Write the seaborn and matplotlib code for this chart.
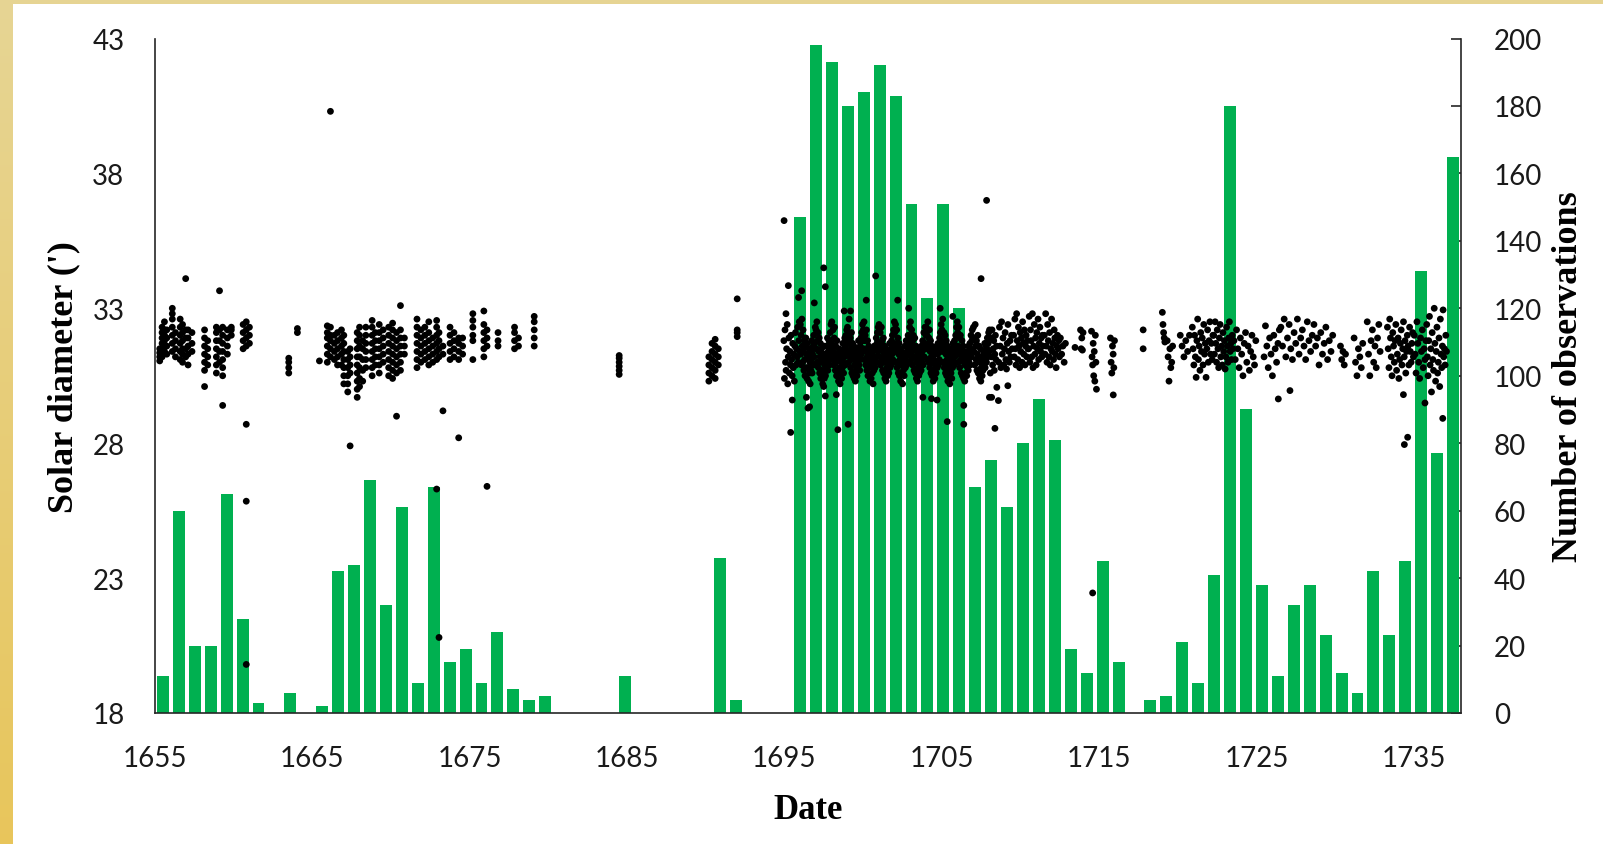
import numpy as np
import pandas as pd
import matplotlib
matplotlib.use("Agg")
import matplotlib.pyplot as plt
from matplotlib.ticker import MultipleLocator
import seaborn as sns

# ---------------- data ----------------
bar_years = list(range(1655, 1737))
bar_counts = [11, 60, 20, 20, 65, 28, 3, 0, 6, 0,
              2, 42, 44, 69, 32, 61, 9, 67, 15, 19,
              9, 24, 7, 4, 5, 0, 0, 0, 0, 11,
              0, 0, 0, 0, 0, 46, 4, 0, 0, 0,
              147, 198, 193, 180, 184, 192, 183, 151, 123, 151,
              120, 67, 75, 61, 80, 93, 81, 19, 12, 45,
              15, 0, 4, 5, 21, 9, 41, 180, 90, 38,
              11, 32, 38, 23, 12, 6, 42, 23, 45, 131,
              77, 165]

# observation groups: (start date, end date, solar diameters in arcmin)
obs_1655_1680 = [
    (1655.3, 1655.3, [31.05, 31.2, 31.35, 31.5]),
    (1655.45, 1655.45, [31.2, 31.5, 31.7, 31.9, 32.1, 32.3]),
    (1655.6, 1655.6, [31.4, 31.6, 31.8, 32.0, 32.2, 32.5]),
    (1655.75, 1655.75, [31.3, 31.6, 31.9, 32.2]),
    (1656.1, 1656.1, [31.4, 31.7, 32.0, 32.3, 32.6, 32.8, 33.0]),
    (1656.3, 1656.3, [31.2, 31.5, 31.8, 32.1]),
    (1656.6, 1656.6, [31.1, 31.4, 31.7, 32.0, 32.3, 32.6]),
    (1656.75, 1656.75, [31.0, 31.3, 31.5, 31.8, 32.1, 32.4]),
    (1656.95, 1656.95, [31.2, 31.5, 31.9, 32.2, 34.1]),
    (1657.1, 1657.1, [30.9, 31.3, 31.6, 31.9, 32.2]),
    (1657.35, 1657.35, [31.4, 31.7, 32.1]),
    (1658.15, 1658.15, [30.1, 30.7, 31.0, 31.3, 31.6, 31.9, 32.2]),
    (1658.35, 1658.35, [30.9, 31.2, 31.5, 31.8]),
    (1658.9, 1658.9, [30.6, 30.9, 31.2, 31.5, 31.8, 32.1, 32.3]),
    (1659.1, 1659.1, [31.0, 31.4, 31.8, 32.2, 33.65]),
    (1659.3, 1659.3, [30.5, 30.8, 31.1, 31.4, 31.7, 32.0, 32.3, 29.4]),
    (1659.6, 1659.6, [31.3, 31.6, 31.9, 32.2]),
    (1659.85, 1659.85, [32.0, 32.2, 32.3]),
    (1660.6, 1660.6, [31.5, 31.8, 32.1, 32.4]),
    (1660.8, 1660.8, [31.6, 31.9, 32.2, 32.5, 28.7, 25.85, 19.8]),
    (1661.0, 1661.0, [31.7, 32.0, 32.3]),
    (1663.5, 1663.5, [30.6, 30.8, 31.0, 31.15]),
    (1664.05, 1664.05, [32.1, 32.25]),
    (1665.45, 1665.45, [31.05]),
    (1665.95, 1665.95, [31.0, 31.3, 31.6, 31.9, 32.1, 32.35]),
    (1666.15, 1666.15, [31.2, 31.5, 31.8, 32.0, 32.3, 40.3]),
    (1666.4, 1666.4, [31.1, 31.4, 31.7, 32.0]),
    (1666.6, 1666.6, [30.9, 31.2, 31.5, 31.8, 32.1]),
    (1666.85, 1666.85, [30.9, 31.3, 31.6, 31.9, 32.2]),
    (1667.0, 1667.0, [30.2, 30.5, 30.8, 31.1, 31.4, 31.7, 32.0]),
    (1667.25, 1667.25, [29.9, 30.2, 30.5, 30.8, 31.1, 31.4]),
    (1667.4, 1667.4, [30.6, 30.9, 31.2, 31.5, 27.9]),
    (1667.85, 1667.85, [29.7, 30.0, 30.3, 30.6, 30.9, 31.2, 31.5, 31.8, 32.1]),
    (1668.0, 1668.0, [30.1, 30.4, 30.8, 31.2, 31.6, 32.0, 32.3]),
    (1668.2, 1668.2, [30.3, 30.7, 31.1, 31.5, 31.8]),
    (1668.4, 1668.4, [30.8, 31.1, 31.4, 31.7, 32.0, 32.3]),
    (1668.8, 1668.8, [30.5, 30.8, 31.1, 31.4, 31.7, 32.0, 32.3, 32.55]),
    (1669.0, 1669.0, [30.9, 31.2, 31.5, 31.8, 32.1]),
    (1669.25, 1669.25, [30.6, 30.9, 31.2, 31.5, 31.8, 32.1, 32.4]),
    (1669.5, 1669.5, [31.0, 31.3, 31.6, 31.9, 32.2]),
    (1669.85, 1669.85, [30.5, 30.8, 31.1, 31.4, 31.7, 32.0, 32.3]),
    (1670.1, 1670.1, [30.4, 30.7, 31.0, 31.3, 31.6, 31.9, 32.2, 32.45]),
    (1670.35, 1670.35, [30.6, 30.9, 31.2, 31.5, 31.8, 32.1, 29.0]),
    (1670.6, 1670.6, [30.7, 31.0, 31.3, 31.6, 31.9, 32.2, 33.1]),
    (1670.85, 1670.85, [31.3, 31.6, 31.9]),
    (1671.65, 1671.65, [30.8, 31.1, 31.4, 31.7, 32.0, 32.3, 32.6]),
    (1671.9, 1671.9, [31.0, 31.3, 31.6, 31.9, 32.2]),
    (1672.15, 1672.15, [31.1, 31.4, 31.7, 32.0, 32.3]),
    (1672.4, 1672.4, [30.9, 31.2, 31.5, 31.8, 32.1, 32.5]),
    (1672.65, 1672.65, [31.0, 31.3, 31.6, 31.9]),
    (1672.9, 1672.9, [31.1, 31.4, 31.7, 32.0, 32.3, 32.55, 26.3]),
    (1673.05, 1673.05, [31.2, 31.5, 31.8, 32.1, 20.8]),
    (1673.3, 1673.3, [31.3, 31.6, 29.2]),
    (1673.75, 1673.75, [31.1, 31.4, 31.7, 32.0, 32.3]),
    (1674.0, 1674.0, [31.2, 31.5, 31.8, 32.1]),
    (1674.3, 1674.3, [31.1, 31.4, 31.7, 31.9, 28.2]),
    (1674.55, 1674.55, [31.3, 31.6, 31.9]),
    (1675.2, 1675.2, [31.1, 31.8, 32.0, 32.3, 32.55, 32.8]),
    (1675.9, 1675.9, [31.2, 31.5, 31.8, 32.1, 32.4, 32.9]),
    (1676.1, 1676.1, [31.6, 31.9, 32.2, 26.4]),
    (1676.8, 1676.8, [31.6, 31.8, 32.1]),
    (1677.85, 1677.85, [31.5, 31.8, 32.1, 32.3]),
    (1678.1, 1678.1, [31.6, 31.9]),
    (1679.1, 1679.1, [31.6, 31.9, 32.2, 32.5, 32.7]),
]

obs_1684_1695 = [
    (1684.5, 1684.5, [30.55, 30.7, 30.85, 31.0, 31.15, 31.25]),
    (1690.2, 1690.2, [30.3, 30.6, 30.9, 31.2]),
    (1690.4, 1690.4, [30.5, 30.8, 31.1, 31.4, 31.7]),
    (1690.6, 1690.6, [30.4, 30.7, 31.0, 31.3, 31.6, 31.85]),
    (1690.8, 1690.8, [30.9, 31.2, 31.5]),
    (1692.0, 1692.0, [31.95, 32.1, 32.2, 33.35]),
]

obs_1695_1708 = [
    (1694.95, 1696.0, [31.8, 30.4, 32.2, 31.0, 30.7, 31.5, 32.4, 30.2, 31.2, 31.9, 30.6, 31.4, 30.9, 32.0, 31.1,
                       30.5, 31.7, 30.8, 31.3, 30.3, 31.6, 32.1, 30.9, 31.5, 31.2, 32.3, 31.0, 31.8, 32.5, 31.4]),
    (1696.0, 1697.0, [32.4, 31.3, 32.0, 30.9, 32.6, 31.6, 31.0, 32.2, 31.4, 30.7, 31.8, 31.1, 30.5, 31.6, 31.9,
                      30.8, 31.3, 30.4, 31.7, 30.8, 31.2, 30.3, 31.5, 30.6, 31.0, 30.2, 31.4, 30.7, 31.1, 31.8,
                      30.6, 31.3, 30.9, 31.6, 32.0, 31.2, 31.7, 30.9, 32.3, 31.5]),
    (1697.0, 1698.0, [32.2, 31.5, 32.5, 31.0, 31.8, 32.1, 30.8, 31.4, 31.9, 30.6, 31.2, 31.7, 30.4, 31.0, 31.5,
                      30.7, 31.3, 30.2, 31.1, 30.6, 31.6, 30.4, 30.9, 31.3, 30.5, 31.0, 31.6, 30.8, 31.2, 31.9,
                      30.7, 31.4, 31.1, 31.8, 30.9, 31.5, 32.1, 31.3, 32.4, 31.7]),
    (1698.0, 1699.0, [32.5, 31.6, 31.1, 32.2, 31.4, 30.9, 31.9, 32.3, 31.2, 30.7, 31.6, 31.0, 30.5, 31.8, 31.3,
                      30.6, 31.1, 30.3, 31.5, 30.8, 31.2, 30.2, 31.4, 30.6, 31.0, 30.4, 31.3, 30.8, 31.7, 31.0,
                      30.6, 31.5, 31.2, 31.9, 30.9, 31.6, 32.0, 31.3, 32.2, 31.8]),
    (1699.0, 1700.0, [32.3, 31.4, 32.0, 31.0, 32.6, 31.7, 31.2, 31.9, 30.8, 31.5, 32.1, 30.6, 31.3, 31.7, 30.5,
                      31.1, 31.6, 30.4, 30.9, 31.4, 30.3, 31.2, 30.7, 31.5, 30.5, 31.0, 30.8, 31.3, 31.8, 30.9,
                      31.4, 30.7, 31.6, 31.1, 31.9, 31.3, 32.1, 31.5, 32.4, 31.8]),
    (1700.0, 1701.0, [32.2, 31.5, 32.5, 31.1, 31.8, 32.0, 30.9, 31.4, 32.2, 30.7, 31.2, 31.8, 30.5, 31.0, 31.6,
                      30.8, 31.3, 30.3, 31.0, 31.5, 30.4, 30.9, 31.2, 30.6, 31.4, 30.2, 31.1, 30.7, 31.6, 31.0,
                      30.8, 31.5, 31.2, 31.9, 31.0, 31.7, 32.1, 31.4, 32.3, 31.6]),
    (1701.0, 1702.0, [32.4, 31.7, 31.2, 32.1, 30.9, 31.5, 32.3, 31.0, 31.8, 30.7, 31.4, 31.9, 30.6, 31.2, 31.6,
                      30.4, 31.0, 31.5, 30.3, 31.1, 30.8, 31.4, 30.5, 30.9, 31.3, 30.6, 31.0, 31.7, 30.8, 31.2,
                      31.5, 30.9, 31.8, 31.3, 32.0, 31.1, 31.6, 32.2, 31.4, 32.5]),
    (1702.0, 1703.0, [32.1, 31.4, 32.4, 31.0, 31.7, 32.2, 30.8, 31.5, 31.9, 30.6, 31.3, 31.7, 30.5, 31.1, 31.5,
                      30.3, 30.9, 31.4, 30.6, 31.2, 30.2, 31.0, 30.7, 31.3, 30.5, 31.1, 31.6, 30.8, 31.2, 31.8,
                      30.9, 31.4, 31.0, 31.7, 32.0, 31.3, 31.9, 31.5, 32.3, 31.6]),
    (1703.0, 1704.0, [32.5, 31.6, 31.1, 32.2, 31.4, 30.9, 31.8, 32.0, 31.2, 30.7, 31.5, 31.9, 30.6, 31.2, 31.6,
                      30.4, 31.0, 31.4, 30.3, 30.8, 31.3, 30.5, 31.1, 30.6, 31.5, 30.9, 31.2, 30.7, 31.6, 31.0,
                      31.4, 31.8, 30.9, 31.5, 32.1, 31.2, 31.7, 32.3, 31.5, 32.0]),
    (1704.0, 1705.0, [32.3, 31.5, 32.0, 31.1, 32.5, 31.7, 31.0, 31.9, 32.2, 30.8, 31.4, 31.8, 30.6, 31.2, 31.6,
                      30.5, 31.0, 31.5, 30.3, 31.1, 30.7, 31.3, 30.4, 30.9, 31.4, 30.6, 31.0, 31.6, 30.8, 31.3,
                      31.7, 30.9, 31.5, 31.1, 31.9, 31.4, 32.1, 31.6, 32.4, 31.8]),
    (1705.0, 1706.0, [32.2, 31.4, 32.6, 31.0, 31.7, 32.1, 30.8, 31.5, 32.0, 30.6, 31.3, 31.8, 30.5, 31.1, 31.6,
                      30.3, 30.9, 31.4, 30.7, 31.2, 30.2, 31.0, 31.5, 30.6, 31.1, 30.4, 31.3, 30.8, 31.7, 31.0,
                      31.4, 30.9, 31.8, 31.2, 31.6, 32.0, 31.3, 32.3, 31.5, 32.5]),
    (1706.0, 1707.0, [32.1, 31.6, 31.0, 32.3, 31.3, 30.8, 31.9, 32.0, 31.1, 30.6, 31.5, 31.8, 30.5, 31.2, 31.6,
                      30.4, 31.0, 31.4, 30.3, 30.9, 31.3, 30.6, 31.1, 30.5, 31.4, 30.8, 31.2, 30.7, 31.6, 31.0,
                      31.3, 31.7, 30.9, 31.5, 32.0, 31.2, 31.8, 32.2, 31.4, 31.9]),
    (1707.0, 1708.05, [32.3, 31.4, 31.9, 30.9, 32.4, 31.6, 31.1, 31.8, 30.7, 31.3, 32.0, 30.6, 31.2, 31.6, 30.4,
                       31.0, 31.5, 30.3, 30.8, 31.2, 30.5, 31.1, 30.7, 31.4, 30.9, 31.3, 31.7, 30.8, 31.2, 31.6,
                       31.0, 31.5, 31.9, 31.2, 31.7, 32.1, 31.4, 32.2]),
]

obs_1708_1737 = [
    (1708.07, 1708.5, [30.6, 31.9, 31.2, 32.2, 30.9, 31.5, 31.8, 30.7, 31.3, 32.0, 31.1, 31.6]),
    (1708.6, 1709.5, [31.0, 32.3, 31.6, 30.8, 32.5, 31.3, 31.9, 30.9, 31.5, 32.1, 31.1, 30.75, 31.7, 32.4, 31.4,
                      31.0, 31.8, 31.2, 32.0, 31.5]),
    (1709.55, 1710.5, [32.0, 31.2, 32.6, 31.5, 30.9, 32.8, 31.8, 31.1, 32.3, 31.6, 30.8, 32.1, 31.4, 31.9, 31.0,
                       32.5, 31.7, 31.3, 32.2, 30.9, 31.6, 32.0, 31.2, 31.8, 31.5]),
    (1710.5, 1711.5, [31.5, 32.7, 31.0, 32.2, 31.8, 31.2, 32.8, 30.8, 31.6, 32.4, 31.3, 31.9, 30.9, 32.1, 31.5,
                      32.6, 31.1, 31.7, 32.3, 31.4, 31.9, 31.2, 32.0, 31.6, 31.3]),
    (1711.5, 1712.5, [32.0, 31.3, 32.8, 31.6, 31.0, 32.4, 31.8, 31.2, 32.1, 30.9, 31.5, 32.6, 31.4, 31.7, 31.1,
                      32.2, 31.9, 31.3, 30.8, 31.6, 32.0, 31.5, 31.8, 31.2]),
    (1712.5, 1712.9, [31.9, 31.3, 31.6, 31.0, 31.7]),
    (1713.47, 1713.47, [31.55]),
    (1713.8, 1714.0, [32.2, 31.5, 31.9, 31.45, 32.1]),
    (1714.5, 1714.85, [32.15, 31.2, 30.9, 31.7, 30.5, 31.4, 30.3, 32.0, 31.0, 30.0]),
    (1715.7, 1716.0, [31.9, 31.0, 30.6, 31.6, 31.3, 30.8, 31.8]),
    (1717.8, 1717.8, [32.2, 31.5]),
    (1719.0, 1719.2, [32.85, 32.4, 32.1, 31.9, 31.75]),
    (1719.3, 1719.7, [31.8, 31.2, 30.3, 31.5, 30.8, 31.0, 31.6]),
    (1720.1, 1720.8, [32.0, 31.6, 31.2, 31.8, 31.4, 32.0]),
    (1720.9, 1722.26, [32.3, 31.5, 30.9, 32.0, 31.2, 30.44, 31.8, 32.6, 31.1, 31.6, 30.7, 32.1, 31.4, 31.9, 30.9,
                       32.4, 31.3, 31.7, 30.44, 31.5, 32.2, 31.0, 31.8, 32.5, 31.3, 31.7, 31.1, 32.0]),
    (1722.26, 1723.53, [32.0, 31.3, 32.5, 31.7, 31.0, 32.2, 31.5, 30.8, 31.9, 32.4, 31.2, 31.6, 30.9, 32.1, 31.4,
                        31.8, 30.75, 31.2, 32.3, 31.6, 31.0, 31.9, 32.5, 31.4, 31.7, 31.1, 32.0, 31.5]),
    (1723.53, 1725.0, [31.8, 31.1, 32.2, 31.5, 30.8, 31.9, 31.3, 30.5, 31.7, 32.1, 31.0, 31.6, 30.7, 31.4, 32.0,
                       31.2, 30.9, 31.8]),
    (1725.44, 1726.5, [31.2, 32.35, 31.6, 30.8, 31.9, 31.3, 30.5, 32.0, 31.5, 31.0, 31.7, 32.2]),
    (1726.5, 1728.6, [32.3, 31.6, 32.6, 31.2, 31.9, 32.4, 31.5, 31.1, 32.1, 31.7, 32.6, 31.3, 31.9, 32.2, 31.6,
                      31.1, 32.5, 31.8, 31.4, 32.0]),
    (1728.6, 1729.9, [32.4, 31.6, 31.9, 30.9, 32.1, 31.3, 31.7, 32.3, 31.1, 31.8, 31.4, 32.0]),
    (1730.3, 1730.7, [31.6, 31.1, 31.4, 30.9, 31.3]),
    (1731.16, 1731.8, [31.9, 31.0, 30.5, 31.5, 31.2, 30.8, 31.7]),
    (1732.0, 1732.9, [32.5, 31.3, 30.5, 31.8, 32.2, 31.0, 31.6, 30.8, 31.9, 32.4, 31.4]),
    (1733.3, 1735.0, [32.3, 31.5, 30.8, 32.6, 31.9, 31.2, 30.5, 32.1, 31.6, 31.0, 31.8, 32.4, 30.7, 31.3, 31.9,
                      30.4, 31.1, 31.7, 32.2, 30.9, 31.5, 32.5, 31.2, 31.8, 30.6, 31.4, 32.0, 31.6, 30.9, 32.3,
                      31.4, 31.0, 31.7, 32.1, 31.2]),
    (1735.0, 1735.8, [32.0, 31.3, 30.6, 32.5, 31.7, 31.0, 30.4, 31.9, 31.4, 32.2, 30.8, 31.5, 31.1, 31.8]),
    (1735.8, 1737.1, [32.4, 31.2, 30.5, 31.8, 32.7, 30.9, 31.5, 29.9, 32.1, 31.1, 30.7, 33.0, 31.7, 30.3, 31.4,
                      32.3, 30.6, 31.0, 31.9, 30.1, 32.6, 31.3, 30.8, 31.6, 32.94, 31.2, 31.5, 30.9, 32.0, 31.4]),
]

outlier_dates = [1694.98, 1695.25, 1695.1, 1696.1, 1695.9, 1697.6, 1696.9, 1697.5, 1700.8, 1700.2,
                 1702.2, 1702.9, 1707.5, 1704.9, 1705.7, 1698.8, 1699.2, 1707.85,
                 1695.4, 1695.5, 1696.4, 1696.5, 1696.6, 1697.5, 1697.6, 1698.4, 1699.05, 1698.3,
                 1703.8, 1704.35, 1704.7, 1705.35, 1706.4, 1706.4, 1708.03,
                 1708.17, 1708.6, 1708.38, 1708.5, 1709.2, 1714.59, 1715.9, 1726.39, 1727.13,
                 1734.34, 1734.4, 1734.61, 1735.71, 1736.84]
outlier_values = [36.25, 33.84, 32.8, 33.65, 33.4, 33.8, 33.2, 34.5, 34.2, 33.3,
                  33.3, 33.0, 34.1, 33.0, 32.7, 32.9, 32.9, 37.0,
                  28.4, 29.6, 29.7, 29.3, 29.35, 30.1, 29.75, 28.5, 28.7, 29.8,
                  29.7, 29.65, 29.6, 28.8, 29.4, 28.7, 29.7,
                  29.7, 29.58, 28.55, 30.07, 30.13, 22.45, 29.79, 29.64, 29.95,
                  29.8, 27.95, 28.22, 29.49, 28.92]

x_ticks = [1655, 1665, 1675, 1685, 1695, 1705, 1715, 1725, 1735]
left_ticks = [18, 23, 28, 33, 38, 43]
right_ticks = [0, 20, 40, 60, 80, 100, 120, 140, 160, 180, 200]

# ---------------- build tables ----------------
dates, diams = [], []
for group in (obs_1655_1680, obs_1684_1695, obs_1695_1708, obs_1708_1737):
    for t0, t1, vals in group:
        n = len(vals)
        if t0 == t1 or n == 1:
            ds = [t0] * n
        else:
            ds = list(t0 + (np.arange(n) + 0.5) * (t1 - t0) / n)
        dates.extend(ds)
        diams.extend(vals)
dates.extend(outlier_dates)
diams.extend(outlier_values)
obs_df = pd.DataFrame({"date": dates, "diameter": diams})
bar_df = pd.DataFrame({"year": bar_years, "count": bar_counts})

# ---------------- figure ----------------
sns.set_style("white")
plt.rcParams["font.family"] = ["Lato", "DejaVu Sans"]

W, H = 1603, 845
fig = plt.figure(figsize=(W / 100, H / 100), dpi=100)
fig.patch.set_facecolor("white")

# decorative gold frame (left and top strips)
bg = fig.add_axes([0, 0, 1, 1], zorder=-10)
bg.axis("off")
grad_left = np.linspace(0, 1, 64)[:, None, None]
c_top = np.array([0.905, 0.835, 0.58])
c_bot = np.array([0.91, 0.775, 0.36])
left_img = c_top * (1 - grad_left) + c_bot * grad_left
bg.imshow(left_img, extent=(0, 13, H, 0), aspect="auto", interpolation="bilinear")
top_img = np.ones((1, 2, 3)) * np.array([0.905, 0.835, 0.58])
bg.imshow(top_img, extent=(0, W, 5, 0), aspect="auto")
bg.set_xlim(0, W)
bg.set_ylim(H, 0)

rect = [155 / W, 1 - 714 / H, 1306 / W, 674.5 / H]
GREEN = "#00B050"
AXC = "#262626"

# bars (secondary axis, categorical years)
ax_bar = fig.add_axes(rect, zorder=1)
sns.barplot(data=bar_df, x="year", y="count", ax=ax_bar, color=GREEN,
            saturation=1, width=0.75, linewidth=0)
ax_bar.set_xlim(-0.5, len(bar_years) - 0.5)
ax_bar.set_ylim(0, 200)
ax_bar.set_xticks([])
ax_bar.set_xlabel("")
ax_bar.yaxis.tick_right()
ax_bar.yaxis.set_label_position("right")
ax_bar.set_yticks(right_ticks)
ax_bar.set_ylabel("Number of observations", family="Liberation Serif",
                  fontweight="bold", fontsize=26, color="black")
ax_bar.yaxis.set_label_coords(1.0693, 0.5)
ax_bar.tick_params(axis="y", direction="in", length=7, width=1.2, labelsize=20,
                   pad=23.5, colors=AXC, labelcolor="#1a1a1a")
for s in ["top", "left", "bottom"]:
    ax_bar.spines[s].set_visible(False)
ax_bar.spines["right"].set_linewidth(1.2)
ax_bar.spines["right"].set_color(AXC)
ax_bar.set_facecolor("white")

# scatter (primary axis)
ax = fig.add_axes(rect, zorder=2)
ax.patch.set_alpha(0)
sns.scatterplot(data=obs_df, x="date", y="diameter", ax=ax, color="black",
                s=24, linewidth=0, edgecolor="none", zorder=3)
ax.set_xlim(1655, 1738)
ax.set_ylim(18, 43)
ax.set_xticks(x_ticks)
ax.set_yticks(left_ticks)
ax.yaxis.set_minor_locator(MultipleLocator(1))
ax.set_xlabel("Date", family="Liberation Serif", fontweight="bold", fontsize=25, color="black")
ax.set_ylabel("Solar diameter (')", family="Liberation Serif", fontweight="bold",
              fontsize=26, color="black")
ax.xaxis.set_label_coords(0.5, -0.1186)
ax.yaxis.set_label_coords(-0.0574, 0.5)
ax.tick_params(axis="both", which="major", direction="in", length=7, width=1.2,
               labelsize=20, colors=AXC, labelcolor="#1a1a1a")
ax.tick_params(axis="y", which="minor", direction="in", length=6, width=1.2, colors=AXC)
ax.tick_params(axis="x", which="minor", length=0)
ax.tick_params(axis="y", which="major", pad=22)
ax.tick_params(axis="x", which="major", pad=23)
for s in ["top", "right"]:
    ax.spines[s].set_visible(False)
for s in ["left", "bottom"]:
    ax.spines[s].set_linewidth(1.2)
    ax.spines[s].set_color(AXC)

fig.savefig("out.png", dpi=100)
